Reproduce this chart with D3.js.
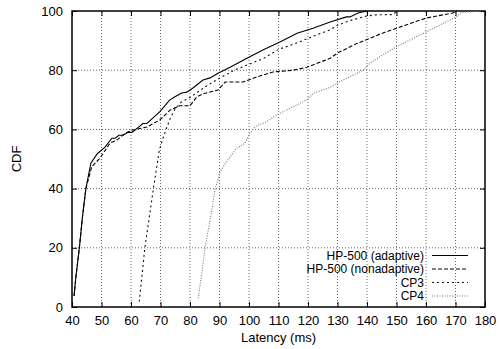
<!DOCTYPE html>
<html>
<head>
<meta charset="utf-8">
<script src="https://cdn.jsdelivr.net/npm/d3@7"></script>
<style>
body { margin: 0; background: #fff; }
svg { display: block; }
text { font-family: "Liberation Sans", Arial, Helvetica, sans-serif; fill: #000; }
</style>
</head>
<body>
<svg id="chart" width="501" height="349"></svg>
<script>
// ---- Data ----
const xTicks = [40, 50, 60, 70, 80, 90, 100, 110, 120, 130, 140, 150, 160, 170, 180];
const yTicks = [0, 20, 40, 60, 80, 100];
const seriesNames = ["HP-500 (adaptive)", "HP-500 (nonadaptive)", "CP3", "CP4"];

const adaptiveX = [40.7, 41.3, 42.5, 43.5, 44.7, 46.4, 48.5, 51.2, 53.5, 54.6, 55.9, 57.3, 59, 60.3, 61.7, 64, 65.4, 67, 69.8, 73, 74.9, 77.2, 78.9, 81, 84.4, 86.8, 89.5, 93.6, 99.3, 104.7, 110.5, 116.3, 121.7, 127.5, 133, 134.2, 137, 139.9];
const adaptiveY = [3.7, 10, 20, 30, 40, 48.6, 51.7, 54, 57, 57, 58, 58, 59, 59, 60, 62, 62, 63.5, 66, 69.8, 71, 72.3, 72.6, 74, 76.7, 77.4, 79, 81, 84, 86.8, 89.5, 92.5, 94.2, 96.3, 98, 98, 99.3, 100];

const nonadaptiveX = [40.7, 41.3, 42.5, 43.5, 44.7, 46.7, 49.5, 52.9, 55.2, 58, 60.7, 65.4, 69.8, 73.2, 76.6, 80, 82.3, 84.4, 89.5, 91.9, 98, 102.6, 108.1, 115, 119.6, 127.5, 130, 136.5, 140, 144.4, 150, 160, 169, 170.5];
const nonadaptiveY = [3.7, 10, 20, 30, 40, 47.4, 50.3, 55.4, 56.4, 58.7, 59.8, 60.8, 63.2, 66.5, 68, 68, 71, 72, 73.3, 76, 76, 77.7, 79.4, 80, 81, 84, 85.8, 89, 90.4, 92.2, 94.2, 97.6, 99.3, 100];

const cp3X = [62.8, 64.7, 67.6, 69.6, 71, 73.2, 75, 77, 80, 85, 90, 95, 100, 105, 110, 117, 123, 127.5, 130, 135, 140, 143, 149, 150];
const cp3Y = [1.8, 20, 40, 53, 57.5, 63.5, 67, 69.2, 70.8, 74.3, 77.3, 80, 82, 84, 87, 89.5, 92, 93.6, 95.2, 97, 98.3, 98.7, 98.8, 100];

const cp4X = [82.8, 85.1, 87.4, 88.5, 90.2, 92.4, 95.8, 98.6, 100.3, 102, 106, 109.4, 113.9, 119.6, 121.8, 127.5, 129.7, 138.7, 141, 144.4, 150, 159.1, 167, 170.4, 172, 179.3];
const cp4Y = [2.9, 19.8, 32.8, 39.8, 45.7, 49.1, 53.6, 55.3, 58.7, 60.9, 62.6, 64.9, 67.1, 70, 72.2, 74.2, 75.6, 80, 82.3, 84.6, 87.9, 92.5, 96.4, 98.1, 99.5, 100];

// ---- Layout ----
const svg = d3.select("#chart");
const W = 501, H = 349;
const margin = { left: 72, top: 11, right: 16, bottom: 42 };
const x0 = margin.left, x1 = W - margin.right, y0 = H - margin.bottom, y1 = margin.top;

const x = d3.scaleLinear().domain([40, 180]).range([x0, x1]);
const y = d3.scaleLinear().domain([0, 100]).range([y0, y1]);

// Grid
const grid = svg.append("g");
grid.selectAll("line.gx").data(xTicks.filter(t => t > 40 && t < 180)).join("line")
  .attr("x1", d => x(d)).attr("x2", d => x(d)).attr("y1", y0).attr("y2", y1)
  .attr("stroke", "#666").attr("stroke-width", 1).attr("stroke-dasharray", "1,2");
grid.selectAll("line.gy").data(yTicks.filter(t => t > 0 && t < 100)).join("line")
  .attr("y1", d => y(d)).attr("y2", d => y(d)).attr("x1", x0).attr("x2", x1)
  .attr("stroke", "#666").attr("stroke-width", 1).attr("stroke-dasharray", "1,2");

// Axes with inward ticks (all four sides)
const tickLen = 5;
const fontSize = 13;
const xb = svg.append("g").attr("transform", `translate(0,${y0})`)
  .call(d3.axisBottom(x).tickValues(xTicks).tickSize(-tickLen).tickPadding(0).tickFormat(d3.format("d")));
xb.selectAll("text").attr("y", 18).attr("dy", "0").style("font-size", fontSize + "px");
const xt = svg.append("g").attr("transform", `translate(0,${y1})`)
  .call(d3.axisTop(x).tickValues(xTicks).tickSize(-tickLen).tickFormat(""));
const yl = svg.append("g").attr("transform", `translate(${x0},0)`)
  .call(d3.axisLeft(y).tickValues(yTicks).tickSize(-tickLen).tickPadding(9).tickFormat(d3.format("d")));
yl.selectAll("text").attr("x", -9).style("font-size", fontSize + "px");
const yr = svg.append("g").attr("transform", `translate(${x1},0)`)
  .call(d3.axisRight(y).tickValues(yTicks).tickSize(-tickLen).tickFormat(""));
[xb, xt, yl, yr].forEach(g => {
  g.select(".domain").remove();
  g.selectAll(".tick line").attr("stroke", "#000").attr("stroke-width", 1);
  g.selectAll("text").attr("fill", "#000").style("font-family", '"Liberation Sans", Arial, Helvetica, sans-serif');
});

// Frame
svg.append("rect").attr("x", x0).attr("y", y1).attr("width", x1 - x0).attr("height", y0 - y1)
  .attr("fill", "none").attr("stroke", "#000").attr("stroke-width", 1.5);

// Series
const series = [
  { name: seriesNames[0], xs: adaptiveX, ys: adaptiveY, color: "#000", dash: null, width: 1.1 },
  { name: seriesNames[1], xs: nonadaptiveX, ys: nonadaptiveY, color: "#000", dash: "4,2", width: 1.1 },
  { name: seriesNames[2], xs: cp3X, ys: cp3Y, color: "#111", dash: "2,3", width: 1.1 },
  { name: seriesNames[3], xs: cp4X, ys: cp4Y, color: "#777", dash: "1,1.5", width: 1.1 }
];
const line = d3.line().x(d => x(d[0])).y(d => y(d[1]));
svg.append("g").selectAll("path").data(series).join("path")
  .attr("d", s => line(s.xs.map((v, i) => [v, s.ys[i]])))
  .attr("fill", "none").attr("stroke", s => s.color).attr("stroke-width", s => s.width)
  .attr("stroke-dasharray", s => s.dash);

// Legend
const legendRows = [255.5, 269, 282.5, 296];
const legendFont = 12;
const lg = svg.append("g");
series.forEach((s, i) => {
  lg.append("text").attr("x", 424).attr("y", legendRows[i]).attr("dy", "0.35em")
    .attr("text-anchor", "end").style("font-size", legendFont + "px").text(s.name);
  lg.append("line").attr("x1", 432).attr("x2", 468).attr("y1", legendRows[i]).attr("y2", legendRows[i])
    .attr("stroke", s.color).attr("stroke-width", s.width).attr("stroke-dasharray", s.dash);
});

// Axis titles
svg.append("text").attr("x", (x0 + x1) / 2).attr("y", 342).attr("text-anchor", "middle")
  .style("font-size", fontSize + "px").text("Latency (ms)");
svg.append("text").attr("transform", `translate(21,${(y0 + y1) / 2}) rotate(-90)`)
  .attr("text-anchor", "middle").style("font-size", fontSize + "px").text("CDF");
</script>
</body>
</html>
